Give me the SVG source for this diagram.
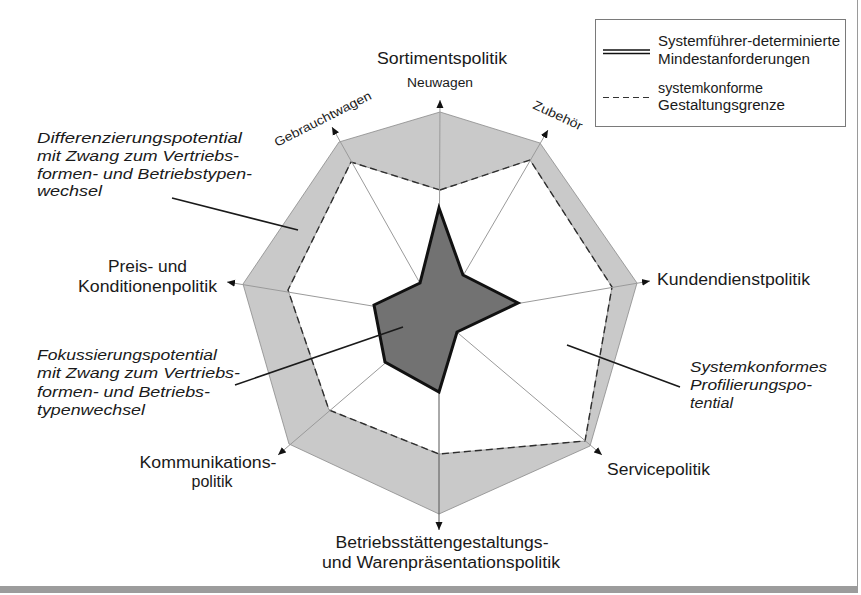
<svg xmlns="http://www.w3.org/2000/svg" width="861" height="595" viewBox="0 0 861 595">
<style>
  text { font-family: "Liberation Sans", Arial, sans-serif; fill: #1a1a1a; }
  .lab { font-size: 16px; }
  .sub { font-size: 12.5px; }
  .ann { font-size: 14.5px; font-style: italic; }
  .leg { font-size: 14px; }
  .axis { stroke: #9a9a9a; stroke-width: 1; fill: none; marker-end: url(#arr); }
  .lead { stroke: #1a1a1a; stroke-width: 1.6; fill: none; }
  .dash { stroke: #2e2e2e; stroke-width: 1.4; stroke-dasharray: 7 4; fill: none; }
</style>
<defs>
  <marker id="arr" markerUnits="userSpaceOnUse" markerWidth="9" markerHeight="8" refX="8" refY="4" orient="auto">
    <path d="M0,0.5 L8,4 L0,7.5 z" fill="#111"/>
  </marker>
</defs>

<rect width="861" height="595" fill="#ffffff"/>
<g id="frame-border">
  <line x1="857.5" y1="0" x2="857.5" y2="593" stroke="#9a9a9a" stroke-width="1"/>
  <rect x="0" y="586" width="858" height="7" fill="#9c9c9c"/>
</g>

<g id="band">
  <path fill="#c9c9c9" fill-rule="evenodd" stroke="#8a8a8a" stroke-width="0.8"
    d="M440,112 L540,143 L637,283 L590,446 L439,514 L289,444 L243,284 L339,142 Z
       M440,190 L530,160 L612,287 L585,441 L439,454 L329,410 L288,290 L351,162 Z"/>
  <path class="dash" d="M440,190 L530,160 L612,287 L585,441 L439,454 L329,410 L288,290 L351,162 Z"/>
</g>

<g id="connectors">
  <line class="axis" x1="439" y1="317" x2="440" y2="100"/>
  <line class="axis" x1="439" y1="317" x2="548" y2="130"/>
  <line class="axis" x1="439" y1="317" x2="650" y2="281"/>
  <line class="axis" x1="439" y1="317" x2="602" y2="455"/>
  <line class="axis" x1="439" y1="317" x2="439" y2="530" style="stroke:#555"/>
  <line class="axis" x1="439" y1="317" x2="278" y2="455"/>
  <line class="axis" x1="439" y1="317" x2="227" y2="282"/>
  <line class="axis" x1="439" y1="317" x2="332" y2="127"/>
</g>

<g id="star">
  <path fill="#727272" stroke="#111" stroke-width="3" stroke-linejoin="miter"
    d="M439,208 L463,275 L518,303 L457,332 L439,392 L385,362 L374,305 L420,283 Z"/>
</g>

<g id="leaders">
  <line class="lead" x1="172" y1="198" x2="298" y2="230"/>
  <line class="lead" x1="235" y1="385" x2="403" y2="327"/>
  <line class="lead" x1="680" y1="387" x2="567" y2="345"/>
</g>

<g id="legend">
  <rect x="595.5" y="19.5" width="250" height="107" fill="#fff" stroke="#7a7a7a" stroke-width="1"/>
  <line x1="603" y1="50" x2="650" y2="50" stroke="#111" stroke-width="1.3"/>
  <line x1="603" y1="53.5" x2="650" y2="53.5" stroke="#111" stroke-width="1.3"/>
  <line x1="603" y1="97.5" x2="650" y2="97.5" stroke="#333" stroke-width="1.2" stroke-dasharray="6 4"/>
  <text class="leg" x="658" y="46" textLength="182" lengthAdjust="spacingAndGlyphs">Systemführer-determinierte</text>
  <text class="leg" x="658" y="64" textLength="152" lengthAdjust="spacingAndGlyphs">Mindestanforderungen</text>
  <text class="leg" x="658" y="93" textLength="105" lengthAdjust="spacingAndGlyphs">systemkonforme</text>
  <text class="leg" x="658" y="110" textLength="127" lengthAdjust="spacingAndGlyphs">Gestaltungsgrenze</text>
</g>

<g id="sortiment">
  <text class="lab" x="442" y="64" text-anchor="middle" textLength="130" lengthAdjust="spacingAndGlyphs">Sortimentspolitik</text>
</g>
<g id="neuwagen">
  <text class="sub" x="440" y="87" text-anchor="middle" textLength="66" lengthAdjust="spacingAndGlyphs">Neuwagen</text>
</g>
<g id="gebrauchtwagen">
  <text class="sub" transform="translate(277,147) rotate(-27)" textLength="107" lengthAdjust="spacingAndGlyphs">Gebrauchtwagen</text>
</g>
<g id="zubehoer">
  <text class="sub" transform="translate(532,108) rotate(25)" textLength="53" lengthAdjust="spacingAndGlyphs">Zubehör</text>
</g>
<g id="kundendienst">
  <text class="lab" x="657" y="285" textLength="153" lengthAdjust="spacingAndGlyphs">Kundendienstpolitik</text>
</g>
<g id="preis">
  <text class="lab" x="147.5" y="272" text-anchor="middle" textLength="79" lengthAdjust="spacingAndGlyphs">Preis- und</text>
  <text class="lab" x="147.5" y="292" text-anchor="middle" textLength="139" lengthAdjust="spacingAndGlyphs">Konditionenpolitik</text>
</g>
<g id="service">
  <text class="lab" x="607" y="475" textLength="103" lengthAdjust="spacingAndGlyphs">Servicepolitik</text>
</g>
<g id="kommunikation">
  <text class="lab" x="208" y="468" text-anchor="middle" textLength="137" lengthAdjust="spacingAndGlyphs">Kommunikations-</text>
  <text class="lab" x="212" y="487" text-anchor="middle">politik</text>
</g>
<g id="betriebsstaetten">
  <text class="lab" x="442" y="548" text-anchor="middle" textLength="213" lengthAdjust="spacingAndGlyphs">Betriebsstättengestaltungs-</text>
  <text class="lab" x="441" y="568" text-anchor="middle" textLength="238" lengthAdjust="spacingAndGlyphs">und Warenpräsentationspolitik</text>
</g>
<g id="differenzierung">
  <text class="ann" x="37" y="143" textLength="205" lengthAdjust="spacingAndGlyphs">Differenzierungspotential</text>
  <text class="ann" x="37" y="161" textLength="202" lengthAdjust="spacingAndGlyphs">mit Zwang zum Vertriebs-</text>
  <text class="ann" x="37" y="179" textLength="215" lengthAdjust="spacingAndGlyphs">formen- und Betriebstypen-</text>
  <text class="ann" x="37" y="196" textLength="65" lengthAdjust="spacingAndGlyphs">wechsel</text>
</g>
<g id="fokussierung">
  <text class="ann" x="37" y="360" textLength="180" lengthAdjust="spacingAndGlyphs">Fokussierungspotential</text>
  <text class="ann" x="37" y="378" textLength="203" lengthAdjust="spacingAndGlyphs">mit Zwang zum Vertriebs-</text>
  <text class="ann" x="37" y="397" textLength="173" lengthAdjust="spacingAndGlyphs">formen- und Betriebs-</text>
  <text class="ann" x="37" y="415" textLength="108" lengthAdjust="spacingAndGlyphs">typenwechsel</text>
</g>
<g id="profilierung">
  <text class="ann" x="690" y="372" textLength="137" lengthAdjust="spacingAndGlyphs">Systemkonformes</text>
  <text class="ann" x="690" y="390" textLength="122" lengthAdjust="spacingAndGlyphs">Profilierungspo-</text>
  <text class="ann" x="690" y="408" textLength="43" lengthAdjust="spacingAndGlyphs">tential</text>
</g>
</svg>
